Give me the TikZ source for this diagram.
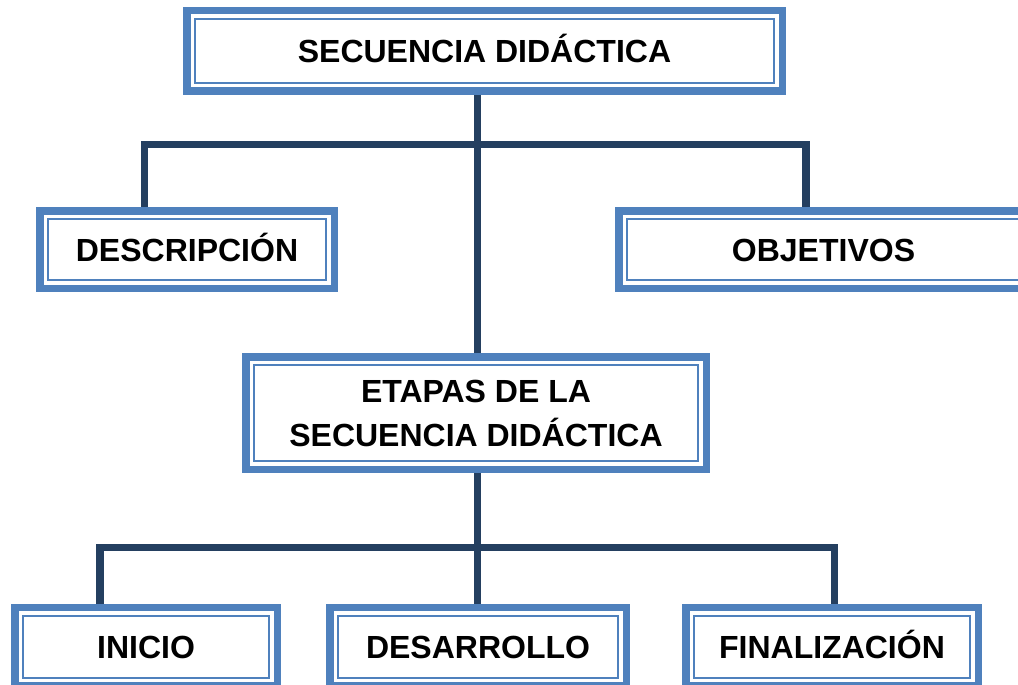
\documentclass[tikz,border=0pt]{standalone}
\usepackage{fontspec}
\setmainfont{Liberation Sans}
\usetikzlibrary{backgrounds}
\definecolor{frameblue}{HTML}{4F81BD}
\definecolor{linknavy}{HTML}{243F60}
\begin{document}
\begin{tikzpicture}[x=1pt,y=1pt,
  framebox/.style={draw=frameblue, line width=7.5pt, outer sep=0pt, inner sep=0pt,
    fill=white, font=\bfseries\fontsize{32}{44}\selectfont, align=center},
  oneline/.style={text height=23pt, text depth=0pt},
  thinframe/.style={draw=frameblue, line width=2.5pt},
  link/.style={draw=linknavy, line width=7.5pt, line join=miter, line cap=butt}]
\useasboundingbox (0,0) rectangle (1018,-685);
\clip (0,0) rectangle (1018,-685);
\node[framebox, oneline, minimum width=595.5pt, minimum height=80.5pt] (top) at (484.5,-51) {SECUENCIA DIDÁCTICA};
\node[framebox, oneline, minimum width=294.5pt, minimum height=77.5pt] (desc) at (187,-249.5) {DESCRIPCIÓN};
\node[framebox, oneline, minimum width=409.5pt, minimum height=77.5pt] (obj) at (823.5,-249.5) {OBJETIVOS};
\node[framebox, minimum width=460.5pt, minimum height=112.5pt] (etapas) at (476,-413) {ETAPAS DE LA\\SECUENCIA DIDÁCTICA};
\node[framebox, oneline, minimum width=262.5pt, minimum height=78.5pt] (inicio) at (146,-646.75) {INICIO};
\node[framebox, oneline, minimum width=296.5pt, minimum height=78.5pt] (desarrollo) at (478,-646.75) {DESARROLLO};
\node[framebox, oneline, minimum width=292.5pt, minimum height=78.5pt] (final) at (832,-646.75) {FINALIZACIÓN};
\foreach \n in {top,desc,obj,etapas,inicio,desarrollo,final}
  \draw[thinframe] ([shift={(8.25pt,-8.25pt)}]\n.north west) rectangle ([shift={(-8.25pt,8.25pt)}]\n.south east);
\coordinate (ja) at (477.5,-144.5);
\coordinate (jl) at (144.7,-144.5);
\coordinate (jr) at (806,-144.5);
\coordinate (jb) at (477.3,-547.5);
\coordinate (kl) at (100,-547.5);
\coordinate (kr) at (834.7,-547.5);
\begin{scope}[on background layer]
  \draw[link] (ja |- top.south) -- (ja |- etapas.north);
  \draw[link] (desc.north -| jl) -- (jl) -- (jr) -- (obj.north -| jr);
  \draw[link] (jb |- etapas.south) -- (jb |- desarrollo.north);
  \draw[link] (inicio.north -| kl) -- (kl) -- (kr) -- (final.north -| kr);
\end{scope}
\end{tikzpicture}
\end{document}
